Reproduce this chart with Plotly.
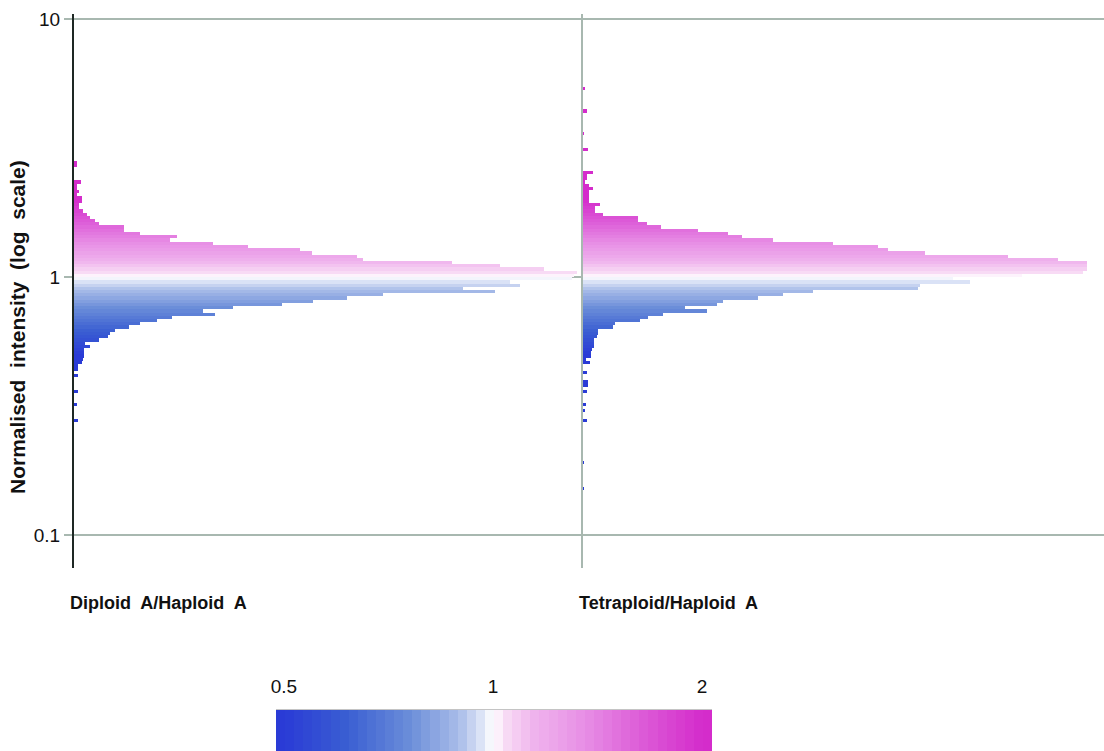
import numpy as np
import plotly.graph_objects as go

# Histograms of normalised intensity ratios, binned on a log10 scale.
# Bin counts are listed from the highest bin (index 59) down to the lowest (index -68).
LOG_BIN_WIDTH = 0.0125
TOP_BIN = 59

panel_names = ["Diploid\u00a0 A/Haploid\u00a0 A", "Tetraploid/Haploid\u00a0 A"]

diploid_counts = [
    0, 0, 0, 0, 0, 0, 0, 0, 0, 0, 0, 0, 0, 0, 0, 0, 0, 0, 0, 0, 0, 0, 0,
    0, 3, 3, 0, 0, 0, 0,
    7, 3, 3, 5, 3, 8, 8, 5, 5, 9,
    13, 16, 21, 25, 50, 50, 66, 103, 96, 139,
    174, 226, 238, 283, 289, 378, 426, 470, 503, 500,
    498, 436, 446, 389, 421, 309, 273, 239, 208, 159,
    129, 141, 98, 83, 66, 55, 41, 36, 34, 25,
    11, 16, 10, 10, 10, 9, 8, 4, 4, 0,
    4, 0, 0, 0, 0, 4, 0, 0, 0, 3,
    0, 0, 0, 0, 4, 0, 0, 0, 0, 0,
    0, 0, 0, 0, 0, 0, 0, 0, 0, 0,
    0, 0, 0, 0, 0, 0, 0, 0,
]

tetraploid_counts = [
    0, 2, 0, 0, 0, 0, 0, 0, 4, 0,
    0, 0, 0, 0, 0, 1, 0, 0, 0, 0,
    5, 0, 0, 0, 0, 0, 0, 10, 4, 4,
    2, 6, 10, 6, 6, 6, 6, 17, 12, 12,
    20, 55, 55, 64, 78, 115, 145, 159, 190, 250,
    295, 305, 342, 425, 475, 504, 504, 504, 500, 439,
    370, 387, 337, 335, 230, 200, 175, 140, 134, 102,
    124, 80, 65, 57, 32, 30, 15, 15, 14, 11,
    11, 11, 9, 8, 8, 3, 7, 0, 0, 4,
    0, 0, 5, 5, 0, 4, 0, 0, 0, 3,
    0, 2, 0, 0, 4, 0, 0, 0, 0, 0,
    0, 0, 0, 0, 0, 0, 0, 1, 0, 0,
    0, 0, 0, 0, 0, 1, 0, 0,
]

y_tick_values = [0.1, 1, 10]
y_tick_labels = ["0.1", "1", "10"]
scale_tick_values = [0.5, 1, 2]
scale_tick_labels = ["0.5", "1", "2"]

assert len(diploid_counts) == len(tetraploid_counts) == 128

# log10 centre of every bin
bin_index = TOP_BIN - np.arange(len(diploid_counts))
bin_centres = (bin_index + 0.5) * LOG_BIN_WIDTH

RATIO_LIMIT = np.log10(2)
colorscale = [
    [0.00, "#2a3bd6"],
    [0.15, "#3a5ed2"],
    [0.30, "#6a8dd9"],
    [0.42, "#aabde9"],
    [0.47, "#dbe3f6"],
    [0.50, "#ffffff"],
    [0.53, "#f8dcf5"],
    [0.60, "#efb3ed"],
    [0.72, "#e78ee5"],
    [0.86, "#dc5ad7"],
    [1.00, "#d42ccb"],
]

GRID = "#a8b8b0"
FONT = "Liberation Sans, Arial, sans-serif"

fig = go.Figure()

for counts, xa, ya in [(diploid_counts, "x", "y"), (tetraploid_counts, "x2", "y2")]:
    fig.add_trace(go.Bar(
        x=counts,
        y=bin_centres,
        orientation="h",
        width=LOG_BIN_WIDTH,
        marker=dict(color=bin_centres, colorscale=colorscale,
                    cmin=-RATIO_LIMIT, cmax=RATIO_LIMIT, line=dict(width=0)),
        xaxis=xa, yaxis=ya,
        showlegend=False,
        hoverinfo="skip",
    ))

# horizontal colour key built as a one-row heatmap on its own axes
key_lo, key_hi = -0.3125, 0.3154
key_edges = np.linspace(key_lo, key_hi, 49)
key_centres = (key_edges[:-1] + key_edges[1:]) / 2
fig.add_trace(go.Heatmap(
    z=[key_centres], x=key_edges, y=[0, 1],
    colorscale=colorscale, zmin=-RATIO_LIMIT, zmax=RATIO_LIMIT,
    showscale=False, xaxis="x3", yaxis="y3", hoverinfo="skip",
))

# pixel geometry of the page
W, H = 1104, 751
M_L, M_T = 74, 14
plot_w = W - M_L
plot_h = H - M_T
panel_bottom = 568
split = 509 / plot_w
y_dom0 = (H - panel_bottom) / plot_h

log_ticks = [float(np.log10(v)) for v in y_tick_values]
y_range = [-1.128, 1.02]

fig.update_layout(
    width=W, height=H,
    margin=dict(l=M_L, r=0, t=M_T, b=0),
    paper_bgcolor="white", plot_bgcolor="white",
    bargap=0,
    font=dict(family=FONT, color="#111111", size=18),
    xaxis=dict(domain=[0, split], range=[0, 509], anchor="y",
               showgrid=False, zeroline=False, showline=False,
               showticklabels=False, ticks=""),
    xaxis2=dict(domain=[split, 1], range=[0, 521], anchor="y2",
                showgrid=False, zeroline=False, showline=False,
                showticklabels=False, ticks=""),
    yaxis=dict(domain=[y_dom0, 1], range=y_range, anchor="x",
               tickmode="array", tickvals=log_ticks, ticktext=y_tick_labels,
               ticks="outside", ticklen=8, tickwidth=1.5, tickcolor=GRID,
               tickfont=dict(size=19, color="#111111"),
               showline=True, linecolor="#1e2824", linewidth=2,
               showgrid=True, gridcolor=GRID, gridwidth=1.5, zeroline=False),
    yaxis2=dict(domain=[y_dom0, 1], range=y_range, anchor="x2",
                tickmode="array", tickvals=[log_ticks[0], log_ticks[2]],
                showticklabels=False, ticks="",
                showline=True, linecolor=GRID, linewidth=1.5,
                showgrid=True, gridcolor=GRID, gridwidth=1.5, zeroline=False),
    xaxis3=dict(domain=[(276 - M_L) / plot_w, (712 - M_L) / plot_w],
                range=[key_lo, key_hi], anchor="y3", side="top",
                tickmode="array",
                tickvals=[float(np.log10(v)) for v in scale_tick_values],
                ticktext=scale_tick_labels,
                ticks="outside", ticklen=8, tickcolor="rgba(0,0,0,0)",
                tickfont=dict(size=19, color="#111111"),
                showline=True, linecolor="#c4c4c4", linewidth=1,
                showgrid=False, zeroline=False),
    yaxis3=dict(domain=[0, (H - 710) / plot_h], range=[0, 1], anchor="x3",
                showticklabels=False, ticks="", showgrid=False,
                zeroline=False, showline=False),
)

label_y = (H - 603) / plot_h
fig.add_annotation(text="<b>" + panel_names[0] + "</b>", xref="x domain", yref="paper",
                   x=-6 / 509, y=label_y, xanchor="left", yanchor="middle",
                   showarrow=False, font=dict(size=18, family=FONT))
fig.add_annotation(text="<b>" + panel_names[1] + "</b>", xref="x2 domain", yref="paper",
                   x=-6 / 521, y=label_y, xanchor="left", yanchor="middle",
                   showarrow=False, font=dict(size=18, family=FONT))

fig.add_annotation(text="<b>Normalised\u00a0 intensity\u00a0 (log\u00a0 scale)</b>",
                   xref="paper", yref="paper",
                   x=(18 - M_L) / plot_w, y=(H - 327) / plot_h,
                   xanchor="center", yanchor="middle", textangle=-90,
                   showarrow=False, font=dict(size=21, family=FONT))

fig.write_html("out.html")
